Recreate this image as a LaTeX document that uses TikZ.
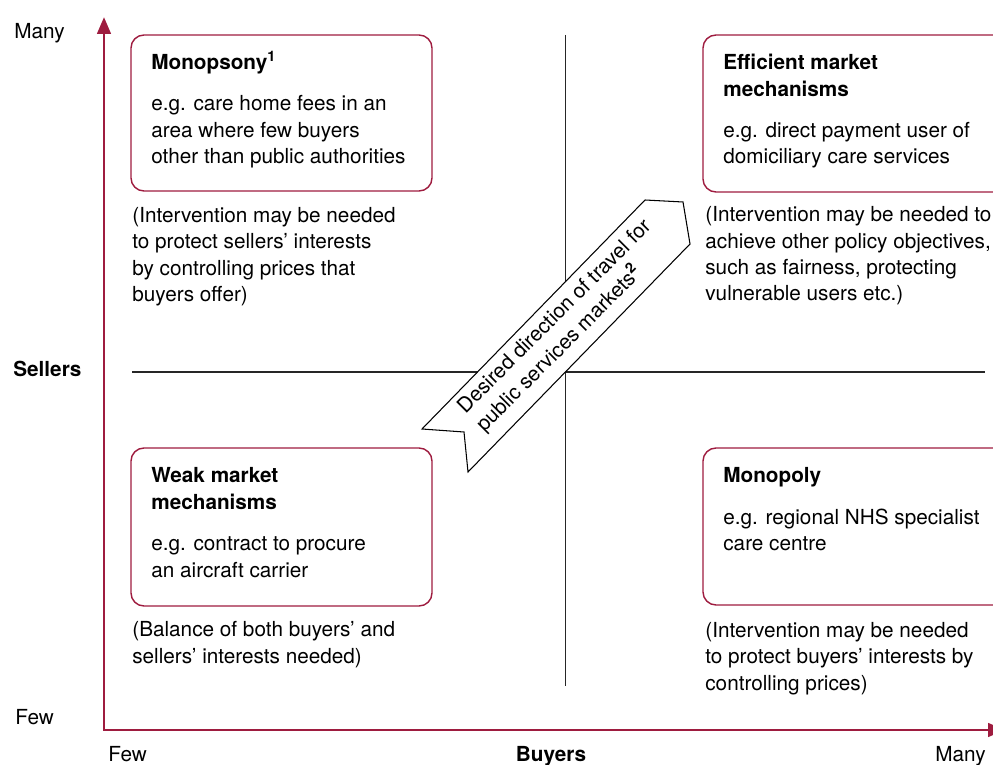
\documentclass[tikz,border=0pt]{standalone}
\usepackage{fontspec}
\setmainfont{TeX Gyre Heros}
\usetikzlibrary{arrows.meta}
\definecolor{weinrot}{RGB}{158,28,63}
\def\ds{0.02}
\def\punkt#1#2{({(#1)*\ds},{-(#2)*\ds})}
\def\fussnote#1{\textsuperscript{\textbf{#1}}}
\tikzset{
	schrift/.style={font=\fontsize{11.8}{15}\selectfont},
	beschriftung/.style={schrift,inner sep=0pt,anchor=base west,align=left},
	kasten/.style={draw=weinrot,line width=0.8pt,rounded corners=0.26cm},
	achse/.style={draw=weinrot,line width=1.7pt},
	kreuz/.style={draw=black!85,line width=0.6pt},
	pfeil/.style={draw=black,fill=white,line width=0.6pt},
}

\begin{document}
\begin{tikzpicture}[>={Triangle[length=0.34cm,width=0.27cm]}]
\path[use as bounding box] \punkt{0}{0} rectangle \punkt{993}{765};
\clip \punkt{0}{0} rectangle \punkt{993}{765};
\path \punkt{104}{730} coordinate (ursprung);
\path \punkt{104}{17} coordinate (yende);
\path \punkt{1005}{730} coordinate (xende);
\draw[achse,<->] (yende) -- (ursprung) -- (xende);
\path \punkt{132}{372} coordinate (links);
\path \punkt{985}{372} coordinate (rechts);
\path \punkt{565.5}{35} coordinate (oben);
\path \punkt{565.5}{686} coordinate (unten);
\draw[kreuz] (links) -- (rechts);
\draw[kreuz] (oben) -- (unten);
\draw[kasten] \punkt{131}{35} rectangle \punkt{432}{191};
\draw[kasten] \punkt{703}{35} rectangle \punkt{1015}{192};
\draw[kasten] \punkt{131}{448} rectangle \punkt{432}{606};
\draw[kasten] \punkt{703}{448} rectangle \punkt{1015}{605};
\draw[pfeil] \punkt{422}{429} -- \punkt{464}{432} -- \punkt{468}{472} -- \punkt{690}{244} -- \punkt{683}{202} -- \punkt{645}{200} -- cycle;
\node[beschriftung,rotate=45] (richtung) at \punkt{484}{433} {Desired direction of travel for\\ public services markets\fussnote{2}};
\node[beschriftung] (vieleV) at \punkt{14}{39} {Many};
\node[beschriftung] (verkaeufer) at \punkt{13}{376} {\textbf{Sellers}};
\node[beschriftung] (wenigeV) at \punkt{15}{724} {Few};
\node[beschriftung] (wenigeK) at \punkt{108}{761} {Few};
\node[beschriftung,anchor=base] (kaeufer) at \punkt{551}{761} {\textbf{Buyers}};
\node[beschriftung] (vieleK) at \punkt{935}{761} {Many};
\node[beschriftung] (monopson) at \punkt{151}{163.5} {\textbf{Monopsony}\fussnote{1}\\[0.3cm] e.g. care home fees in an\\ area where few buyers\\ other than public authorities};
\node[beschriftung] (effizient) at \punkt{723}{164} {\textbf{Efficient market}\\ \textbf{mechanisms}\\[0.3cm] e.g. direct payment user of\\ domiciliary care services};
\node[beschriftung] (schwach) at \punkt{151}{577} {\textbf{Weak market}\\ \textbf{mechanisms}\\[0.3cm] e.g. contract to procure\\ an aircraft carrier};
\node[beschriftung] (monopol) at \punkt{723}{550.5} {\textbf{Monopoly}\\[0.3cm] e.g. regional NHS specialist\\ care centre};
\node[beschriftung] (hinweisA) at \punkt{132}{301.5} {(Intervention may be needed\\ to protect sellers' interests\\ by controlling prices that\\ buyers offer)};
\node[beschriftung] (hinweisB) at \punkt{705}{301} {(Intervention may be needed to\\ achieve other policy objectives,\\ such as fairness, protecting\\ vulnerable users etc.)};
\node[beschriftung] (hinweisC) at \punkt{132}{663} {(Balance of both buyers' and\\ sellers' interests needed)};
\node[beschriftung] (hinweisD) at \punkt{705}{690} {(Intervention may be needed\\ to protect buyers' interests by\\ controlling prices)};
\end{tikzpicture}
\end{document}
